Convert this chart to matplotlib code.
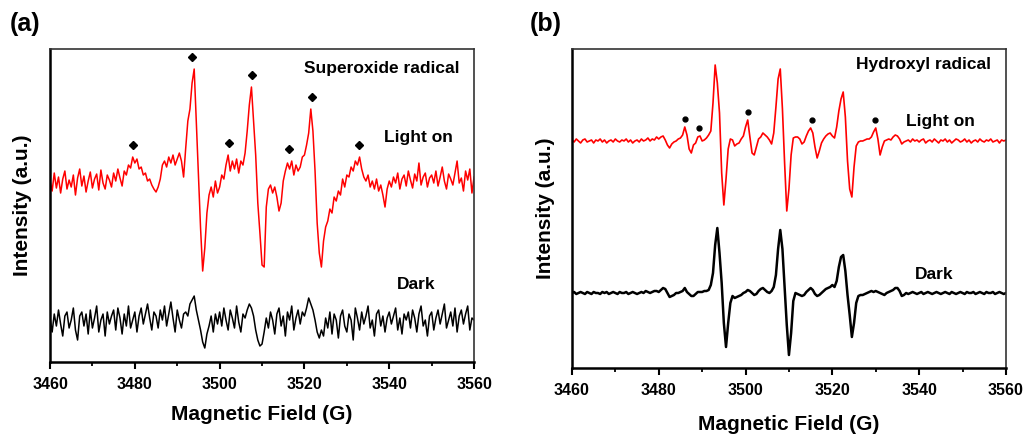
import numpy as np
import matplotlib
matplotlib.use("Agg")
import matplotlib.pyplot as plt
from matplotlib.ticker import MultipleLocator

plt.rcParams['font.family'] = ['Liberation Sans', 'DejaVu Sans']
plt.rcParams['font.weight'] = 'bold'

# field axis, one reading every 0.5 G
field = np.linspace(3460, 3560, 201)

# (a) superoxide, DMPO spectrum (deflection from baseline, a.u.)
a_light = [
    2, -8, 10, -5, 6, -10, 4, 12, -6, 3,
    -4, 8, -12, 5, 14, -3, 7, -9, 2, 11,
    -5, 4, 9, -7, 13, 0, -6, 8, 3, -4,
    10, 2, 14, 5, -3, 12, 8, 18, 15, 26,
    20, 24, 14, 16, 8, 10, 2, 4, -2, -6,
    -9, -4, 4, 18, 22, 16, 26, 20, 28, 18,
    24, 30, 22, 6, 35, 62, 74, 100, 114, 62,
    8, -45, -88, -65, -30, -12, -4, -14, 2, -10,
    -4, 8, 4, 18, 28, 12, 22, 14, 24, 10,
    22, 18, 30, 52, 78, 96, 62, 28, -20, -50,
    -82, -84, -24, -6, -2, -10, -4, -14, -28, -20,
    2, 12, 20, 14, 22, 8, 18, 12, 16, 26,
    28, 38, 50, 74, 52, 12, -40, -70, -84, -58,
    -44, -38, -26, -30, -14, -18, -8, -12, 4, -4,
    8, 6, 16, 12, 22, 18, 26, 14, 6, 2,
    8, -4, 2, -6, 4, -8, -2, -12, -24, -6,
    2, -4, 6, 0, 10, -6, 4, 8, -3, 12,
    3, -5, 9, 2, 20, -2, 6, 10, -4, 5,
    8, 0, 12, -3, 6, 16, 2, -6, 9, 4,
    -2, 10, 22, 0, 5, -8, 12, 3, 14, -10,
    6,
]
a_dark = [
    4, -10, 8, -4, 12, -2, -14, 6, 10, -6,
    2, 14, -8, -18, 6, 10, -4, 8, -12, 12,
    -6, 4, 16, -10, 2, 8, -14, 10, -2, 6,
    12, -8, 14, 4, -12, 8, -4, 16, -6, 2,
    10, -10, 6, 14, -2, 8, 18, 4, -8, 10,
    6, -6, 12, 2, 16, -4, 8, 20, 4, -10,
    12, 2, -6, 8, 10, 6, 18, 22, 26, 12,
    2, -8, -20, -26, -12, -4, 6, -10, 8, -2,
    10, -4, 14, 2, -8, 12, 4, -6, 16, 0,
    -10, 8, 4, 12, 18, 14, 6, -8, -18, -24,
    -22, -10, 4, -6, 10, 2, -12, 8, 14, -4,
    6, -14, 10, 2, 16, -8, 4, 12, -2, 10,
    6, 14, 24, 18, 12, 2, -10, -16, -8, -14,
    4, -6, 10, -12, 8, 2, -16, 6, 12, -4,
    -10, 8, 2, -18, 14, 4, -8, 10, -2, 6,
    16, -6, 2, -14, 8, 12, -4, 6, -10, 4,
    10, -2, 6, 14, -8, 4, -12, 8, 2, 10,
    -6, 12, 4, -10, 8, 16, -4, 2, -14, 6,
    10, -8, 4, 12, -2, 8, 18, -6, 2, 10,
    -4, 14, -10, 6, 12, -2, 8, 16, -8, 4,
    2,
]
a_marks = [3479.6, 3493.5, 3502.2, 3507.6, 3516.4, 3521.8, 3532.9]

# (b) hydroxyl, DMPO spectrum
b_light = [
    1, -1, 2, 0, -2, 1, 2, -1, 0, 1,
    -2, 1, 0, 2, -1, 1, -2, 0, 1, -1,
    2, 0, -1, 1, 0, 2, -1, 1, -2, 0,
    1, -1, 2, 0, 1, 3, 0, 2, 1, 4,
    2, 4, 5, 1, -4, -7, -3, -1, 0, 2,
    3, 6, 14, 6, -8, -12, -4, -2, 4, 5,
    0, 1, 3, 6, 10, 38, 76, 58, 28, -32,
    -64, -38, -8, 2, 1, -5, -3, -2, 2, 5,
    14, 21, 4, -12, -14, -6, 2, 4, 8, 6,
    4, 1, -3, 8, 34, 62, 72, 32, -22, -70,
    -48, -14, 3, 4, 4, 2, -3, -1, 5, 10,
    13, 8, -6, -17, -10, -2, 2, 5, 7, 8,
    5, 3, 14, 30, 42, 49, 24, -20, -48, -56,
    -26, -5, -1, 0, 0, 1, 2, 2, 4, 9,
    13, 2, -14, -6, 0, 1, 2, 1, 4, 6,
    5, 2, -3, -1, 0, 1, -1, 2, 0, 1,
    -1, 1, 2, -2, 0, 1, -1, 2, 0, -2,
    1, 0, 2, -1, 1, -2, 0, 2, 1, -1,
    0, 2, -1, 1, -2, 0, 1, -1, 2, 0,
    -1, 1, 0, 2, -1, 0, 1, -2, 1, 0,
    1,
]
b_dark = [
    0, 1, -1, 0, 1, 0, -1, 1, 0, -1,
    1, 0, 0, -1, 1, 0, 1, -1, 0, 1,
    0, -1, 1, 0, 0, 1, -1, 0, 1, 0,
    -1, 0, 1, 0, 2, 1, 0, 1, 2, 2,
    1, 3, 5, 4, 0, -4, -3, -2, 0, 0,
    1, 2, 5, 1, -1, -3, -3, -1, 1, 1,
    1, 2, 2, 3, 8, 20, 48, 65, 40, 10,
    -30, -54, -30, -10, -3, -5, -4, -3, -2, 0,
    1, 3, 2, 0, -2, -1, 2, 4, 5, 3,
    1, 0, 2, 6, 18, 44, 63, 44, 6, -32,
    -62, -40, -8, 0, -1, -2, -3, -2, 1, 3,
    5, 3, -1, -3, -2, 0, 2, 4, 5, 6,
    8, 6, 12, 26, 36, 38, 22, -2, -22, -44,
    -30, -10, -3, -2, -2, -1, 0, 1, 2, 1,
    2, 1, 0, -1, -2, 0, 1, 2, 3, 5,
    5, 2, -3, -2, 0, -1, 0, 1, 0, -1,
    0, 1, -1, 0, 1, 0, -1, 0, 1, 0,
    -1, 0, 1, 0, -1, 1, 0, -1, 0, 1,
    0, -1, 1, 0, 0, 1, -1, 0, 1, 0,
    -1, 1, 0, 0, 1, -1, 0, 1, 0, -1,
    0,
]
b_marks = [3486.1, 3489.2, 3500.5, 3515.3, 3529.8]


def mark_heights(trace, marks, base, gap):
    trace = np.asarray(trace)
    out = []
    for m in marks:
        near = np.abs(field - m) <= 0.6
        out.append(base + trace[near].max() + gap)
    return out


def style_axes(ax, ylim, xlab_y, ylab_x):
    ax.set_xlim(3460, 3560)
    ax.set_ylim(*ylim)
    ax.set_yticks([])
    ax.xaxis.set_major_locator(MultipleLocator(20))
    ax.xaxis.set_minor_locator(MultipleLocator(10))
    ax.tick_params(axis='x', which='major', length=5, width=1.5, labelsize=11.5, pad=6)
    ax.tick_params(axis='x', which='minor', length=3, width=1.3)
    for s in ['bottom', 'left']:
        ax.spines[s].set_linewidth(1.8)
    for s in ['top', 'right']:
        ax.spines[s].set_linewidth(1.2)
        ax.spines[s].set_color('#333333')
    ax.set_xlabel('Magnetic Field (G)', fontsize=15, fontweight='bold')
    ax.set_ylabel('Intensity (a.u.)', fontsize=15, fontweight='bold')
    ax.xaxis.set_label_coords(0.5, xlab_y)
    ax.yaxis.set_label_coords(ylab_x, 0.5)


fig = plt.figure(figsize=(10.25, 4.37), dpi=100)
ax1 = fig.add_axes([0.0488, 0.1716, 0.4137, 0.7162])
ax2 = fig.add_axes([0.558, 0.1579, 0.4234, 0.730])

# panel (a)
ax1.plot(field, np.array(a_light) + 179, color='#ff0000', lw=1.1)
ax1.plot(field, np.array(a_dark) + 40, color='black', lw=1.1)
ax1.plot(a_marks, mark_heights(a_light, a_marks, 179, 12), 'D', color='black', ms=4.5)
style_axes(ax1, (0, 313), -0.137, -0.042)
ax1.text(0.599, 0.939, 'Superoxide radical', transform=ax1.transAxes, fontsize=12.5, fontweight='bold', va='center')
ax1.text(0.788, 0.716, 'Light on', transform=ax1.transAxes, fontsize=12.5, fontweight='bold', va='center')
ax1.text(0.818, 0.249, 'Dark', transform=ax1.transAxes, fontsize=12.5, fontweight='bold', va='center')

# panel (b)
ax2.plot(field, np.array(b_light) + 227, color='#ff0000', lw=1.2)
ax2.plot(field, np.array(b_dark) + 75, color='black', lw=1.8)
ax2.plot(b_marks, mark_heights(b_light, b_marks, 227, 8), 'o', color='black', ms=3.5)
style_axes(ax2, (0, 319), -0.147, -0.039)
ax2.text(0.654, 0.950, 'Hydroxyl radical', transform=ax2.transAxes, fontsize=12.5, fontweight='bold', va='center')
ax2.text(0.770, 0.774, 'Light on', transform=ax2.transAxes, fontsize=12.5, fontweight='bold', va='center')
ax2.text(0.790, 0.292, 'Dark', transform=ax2.transAxes, fontsize=12.5, fontweight='bold', va='center')

fig.text(10 / 1025, 1 - 24 / 437, '(a)', fontsize=18, fontweight='bold', va='center')
fig.text(530 / 1025, 1 - 24 / 437, '(b)', fontsize=18, fontweight='bold', va='center')

fig.savefig('out.png', dpi=100)
